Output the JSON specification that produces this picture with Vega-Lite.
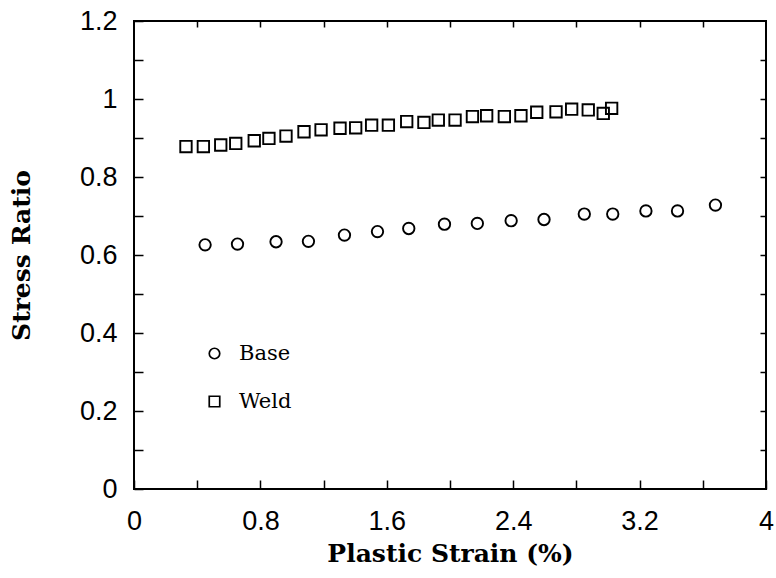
{
  "$schema": "https://vega.github.io/schema/vega-lite/v6.json",
  "width": 632,
  "height": 468,
  "autosize": {"type": "none"},
  "padding": {"left": 134, "top": 21, "right": 10, "bottom": 89},
  "background": "white",
  "config": {
    "view": {"stroke": "black", "strokeWidth": 2},
    "axis": {
      "domain": false,
      "grid": false,
      "tickColor": "black",
      "tickWidth": 1.5,
      "labelColor": "black",
      "labelFont": "Liberation Sans",
      "labelFontSize": 27,
      "titleColor": "black",
      "titleFont": "DejaVu Serif",
      "titleFontWeight": "bold",
      "titleFontSize": 25
    }
  },
  "data": {
    "values": [
      {"strain": 0.45, "ratio": 0.626, "material": "Base"},
      {"strain": 0.655, "ratio": 0.628, "material": "Base"},
      {"strain": 0.899, "ratio": 0.634, "material": "Base"},
      {"strain": 1.104, "ratio": 0.635, "material": "Base"},
      {"strain": 1.332, "ratio": 0.651, "material": "Base"},
      {"strain": 1.541, "ratio": 0.66, "material": "Base"},
      {"strain": 1.739, "ratio": 0.668, "material": "Base"},
      {"strain": 1.965, "ratio": 0.679, "material": "Base"},
      {"strain": 2.173, "ratio": 0.681, "material": "Base"},
      {"strain": 2.387, "ratio": 0.688, "material": "Base"},
      {"strain": 2.595, "ratio": 0.691, "material": "Base"},
      {"strain": 2.85, "ratio": 0.705, "material": "Base"},
      {"strain": 3.03, "ratio": 0.705, "material": "Base"},
      {"strain": 3.24, "ratio": 0.713, "material": "Base"},
      {"strain": 3.44, "ratio": 0.713, "material": "Base"},
      {"strain": 3.68, "ratio": 0.728, "material": "Base"},
      {"strain": 0.329, "ratio": 0.878, "material": "Weld"},
      {"strain": 0.439, "ratio": 0.878, "material": "Weld"},
      {"strain": 0.549, "ratio": 0.882, "material": "Weld"},
      {"strain": 0.644, "ratio": 0.886, "material": "Weld"},
      {"strain": 0.761, "ratio": 0.893, "material": "Weld"},
      {"strain": 0.854, "ratio": 0.899, "material": "Weld"},
      {"strain": 0.962, "ratio": 0.905, "material": "Weld"},
      {"strain": 1.076, "ratio": 0.916, "material": "Weld"},
      {"strain": 1.184, "ratio": 0.921, "material": "Weld"},
      {"strain": 1.304, "ratio": 0.925, "material": "Weld"},
      {"strain": 1.403, "ratio": 0.926, "material": "Weld"},
      {"strain": 1.504, "ratio": 0.933, "material": "Weld"},
      {"strain": 1.61, "ratio": 0.933, "material": "Weld"},
      {"strain": 1.726, "ratio": 0.942, "material": "Weld"},
      {"strain": 1.835, "ratio": 0.94, "material": "Weld"},
      {"strain": 1.926, "ratio": 0.946, "material": "Weld"},
      {"strain": 2.032, "ratio": 0.946, "material": "Weld"},
      {"strain": 2.142, "ratio": 0.955, "material": "Weld"},
      {"strain": 2.232, "ratio": 0.957, "material": "Weld"},
      {"strain": 2.344, "ratio": 0.955, "material": "Weld"},
      {"strain": 2.449, "ratio": 0.957, "material": "Weld"},
      {"strain": 2.549, "ratio": 0.966, "material": "Weld"},
      {"strain": 2.671, "ratio": 0.967, "material": "Weld"},
      {"strain": 2.77, "ratio": 0.974, "material": "Weld"},
      {"strain": 2.875, "ratio": 0.972, "material": "Weld"},
      {"strain": 2.97, "ratio": 0.963, "material": "Weld"},
      {"strain": 3.023, "ratio": 0.976, "material": "Weld"}
    ]
  },
  "layer": [
    {
      "mark": {"type": "point", "filled": false, "size": 130, "strokeWidth": 1.9, "color": "black", "opacity": 1},
      "encoding": {
        "x": {
          "field": "strain", "type": "quantitative",
          "scale": {"domain": [0, 4], "nice": false, "zero": false},
          "axis": {
            "orient": "bottom",
            "title": "Plastic Strain (%)",
            "values": [0, 0.4, 0.8, 1.2, 1.6, 2.0, 2.4, 2.8, 3.2, 3.6, 4.0],
            "labelExpr": "round(datum.value*10) % 8 == 0 ? format(datum.value, '~g') : ''",
            "tickSize": -9,
            "labelPadding": 28,
            "labelFlush": false,
            "titlePadding": 7
          }
        },
        "y": {
          "field": "ratio", "type": "quantitative",
          "scale": {"domain": [0, 1.2], "nice": false, "zero": false},
          "axis": {
            "orient": "left",
            "title": "Stress Ratio",
            "values": [0, 0.1, 0.2, 0.3, 0.4, 0.5, 0.6, 0.7, 0.8, 0.9, 1.0, 1.1, 1.2],
            "labelExpr": "round(datum.value*10) % 2 == 0 ? format(datum.value, '~g') : ''",
            "tickSize": -9,
            "labelPadding": 26,
            "labelFlush": false,
            "titlePadding": 45
          }
        },
        "shape": {
          "field": "material", "type": "nominal",
          "scale": {"domain": ["Base", "Weld"], "range": ["circle", "square"]},
          "legend": {
            "title": null,
            "orient": "none",
            "legendX": 70,
            "legendY": 322,
            "symbolSize": 110,
            "symbolStrokeWidth": 1.7,
            "symbolStrokeColor": "black",
            "symbolFillColor": "transparent",
            "labelFont": "DejaVu Serif",
            "labelFontSize": 21,
            "labelColor": "black",
            "labelOffset": 14,
            "rowPadding": 26
          }
        }
      }
    },
    {
      "mark": {"type": "point", "opacity": 0},
      "encoding": {
        "x": {
          "field": "strain", "type": "quantitative",
          "scale": {"domain": [0, 4], "nice": false, "zero": false},
          "axis": {"orient": "top", "title": null, "labels": false, "values": [0.4, 0.8, 1.2, 1.6, 2.0, 2.4, 2.8, 3.2, 3.6], "tickSize": -6}
        },
        "y": {
          "field": "ratio", "type": "quantitative",
          "scale": {"domain": [0, 1.2], "nice": false, "zero": false},
          "axis": {"orient": "right", "title": null, "labels": false, "values": [0.1, 0.2, 0.3, 0.4, 0.5, 0.6, 0.7, 0.8, 0.9, 1.0, 1.1], "tickSize": -6}
        }
      }
    }
  ],
  "resolve": {"axis": {"x": "independent", "y": "independent"}}
}
